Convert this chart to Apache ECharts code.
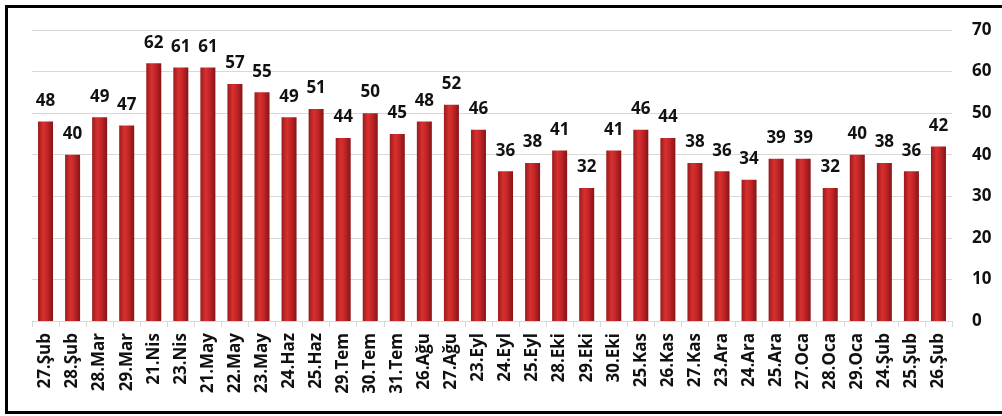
<!DOCTYPE html>
<html>
<head>
<meta charset="utf-8">
<script src="https://cdn.jsdelivr.net/npm/echarts@6/dist/echarts.min.js"></script>
<style>
  html, body { margin: 0; padding: 0; background: #fff; }
  #wrap { position: relative; width: 1002px; height: 416px; overflow: hidden; }
  #frame {
    position: absolute; left: 5px; top: 5px; width: 1010px; height: 403px;
    border: 3px solid #000; box-sizing: content-box; pointer-events: none;
  }
  #myCharts { position: absolute; left: 0; top: 0; width: 1002px; height: 416px; }
</style>
</head>
<body>
<div id="wrap">
  <div id="myCharts"></div>
  <div id="frame"></div>
</div>
<script>
  // kategoriler (tarihler)
  var days = ['27.Şub', '28.Şub', '28.Mar', '29.Mar', '21.Nis', '23.Nis', '21.May', '22.May',
    '23.May', '24.Haz', '25.Haz', '29.Tem', '30.Tem', '31.Tem', '26.Ağu', '27.Ağu', '23.Eyl',
    '24.Eyl', '25.Eyl', '28.Eki', '29.Eki', '30.Eki', '25.Kas', '26.Kas', '27.Kas', '23.Ara',
    '24.Ara', '25.Ara', '27.Oca', '28.Oca', '29.Oca', '24.Şub', '25.Şub', '26.Şub'];
  // değerler
  var counts = [48, 40, 49, 47, 62, 61, 61, 57, 55, 49, 51, 44, 50, 45, 48, 52, 46,
    36, 38, 41, 32, 41, 46, 44, 38, 36, 34, 39, 39, 32, 40, 38, 36, 42];
  var yTicks = [0, 10, 20, 30, 40, 50, 60, 70];

  var font = '"Open Sans", "DejaVu Sans", sans-serif';

  var options = {
    animation: false,
    grid: { left: 32, right: 50, top: 30, bottom: 95 },
    xAxis: [{
      type: 'category',
      data: days,
      axisLine: { lineStyle: { color: '#d9d9d9', width: 1 } },
      axisTick: { show: true, length: 6, lineStyle: { color: '#d9d9d9' } },
      axisLabel: {
        interval: 0,
        rotate: 90,
        margin: 12,
        color: '#111',
        fontSize: 17,
        fontWeight: 'bold',
        fontFamily: font
      }
    }],
    yAxis: [{
      type: 'value',
      position: 'right',
      min: yTicks[0],
      max: yTicks[yTicks.length - 1],
      interval: 10,
      axisLine: { show: false },
      axisTick: { show: false },
      splitLine: { lineStyle: { color: '#d9d9d9', width: 1 } },
      axisLabel: {
        margin: 20,
        color: '#111',
        fontSize: 17,
        fontWeight: 'bold',
        fontFamily: font
      }
    }],
    series: [{
      name: 'değer',
      type: 'bar',
      data: counts,
      barWidth: 15,
      itemStyle: {
        color: new echarts.graphic.LinearGradient(0, 0, 1, 0, [
          { offset: 0, color: '#9a1a1c' },
          { offset: 0.35, color: '#d8302f' },
          { offset: 0.6, color: '#c42628' },
          { offset: 1, color: '#861416' }
        ])
      },
      label: {
        show: true,
        position: 'top',
        distance: 12,
        color: '#111',
        fontSize: 17,
        fontWeight: 'bold',
        fontFamily: font
      }
    }]
  };

  var myCharts = echarts.init(document.getElementById('myCharts'));
  myCharts.setOption(options);
</script>
</body>
</html>
